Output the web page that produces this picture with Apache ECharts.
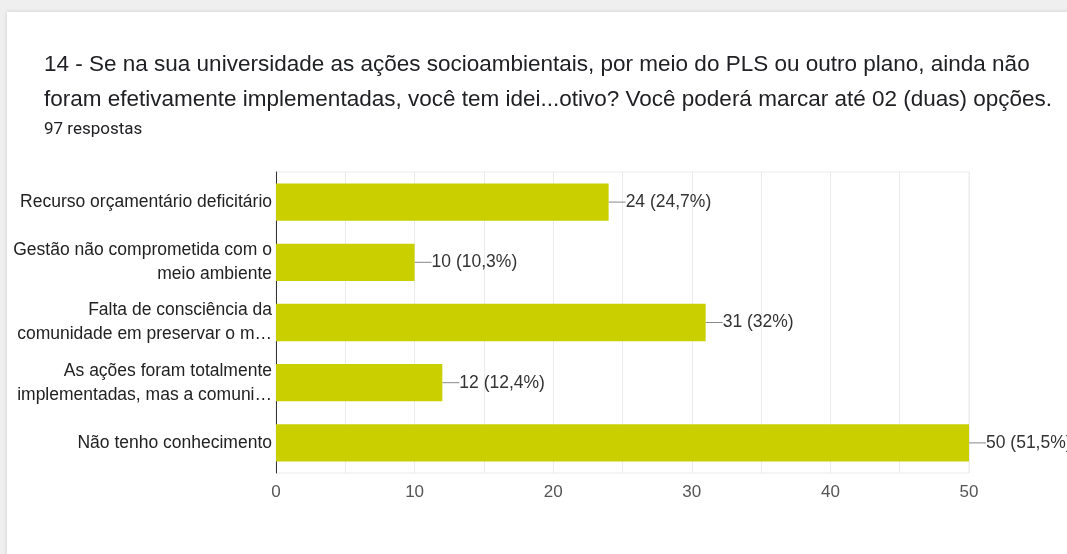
<!DOCTYPE html>
<html>
<head>
<meta charset="utf-8">
<script src="https://cdn.jsdelivr.net/npm/echarts@6/dist/echarts.min.js"></script>
<style>
  html, body { margin: 0; padding: 0; background: #efefef; overflow: hidden; }
  #card {
    position: absolute; left: 7px; top: 12px; right: -10px; bottom: -10px;
    background: #ffffff; box-shadow: 0 0 4px rgba(0,0,0,0.15);
  }
  #myChart { position: absolute; left: 0; top: 0; width: 1067px; height: 554px; }
</style>
</head>
<body>
<div id="card"></div>
<div id="myChart"></div>
<script>
// categorias (de cima para baixo)
var categories = [
  "Recurso orçamentário deficitário",
  "Gestão não comprometida com o\nmeio ambiente",
  "Falta de consciência da\ncomunidade em preservar o m…",
  "As ações foram totalmente\nimplementadas, mas a comuni…",
  "Não tenho conhecimento"
];
var counts = [24, 10, 31, 12, 50];
var percents = ["24,7%", "10,3%", "32%", "12,4%", "51,5%"];
var xTicks = [0, 10, 20, 30, 40, 50];

var chart = echarts.init(document.getElementById("myChart"));

chart.setOption({
  animation: false,
  textStyle: { fontFamily: "Liberation Sans, Arial, sans-serif" },
  title: {
    text: "14 - Se na sua universidade as ações socioambientais, por meio do PLS ou outro plano, ainda não\nforam efetivamente implementadas, você tem idei...otivo? Você poderá marcar até 02 (duas) opções.",
    subtext: "97 respostas",
    left: 39,
    top: 42,
    itemGap: 4,
    textStyle: {
      fontFamily: "Liberation Sans, Arial, sans-serif",
      fontSize: 22.5,
      fontWeight: "normal",
      color: "#202124",
      lineHeight: 35
    },
    subtextStyle: {
      fontFamily: "Roboto, sans-serif",
      fontSize: 17,
      lineHeight: 17,
      color: "#202124"
    }
  },
  grid: {
    left: 276,
    right: 98,
    top: 172,
    bottom: 81,
    show: true,
    borderColor: "#ebebeb",
    borderWidth: 1
  },
  xAxis: {
    type: "value",
    min: xTicks[0],
    max: xTicks[xTicks.length - 1],
    interval: 10,
    axisLine: { show: false },
    axisTick: { show: false },
    axisLabel: { fontSize: 17, color: "#555555", margin: 11 },
    splitLine: { lineStyle: { color: "#ebebeb" } },
    minorTick: { show: false, splitNumber: 2 },
    minorSplitLine: { show: true, lineStyle: { color: "#ebebeb" } }
  },
  yAxis: {
    type: "category",
    inverse: true,
    data: categories,
    axisLine: { show: true, lineStyle: { color: "#333333", width: 1 } },
    axisTick: { show: false },
    axisLabel: { fontSize: 17.5, color: "#222222", lineHeight: 24, margin: 4 }
  },
  series: [
    {
      type: "bar",
      data: counts,
      barCategoryGap: "38%",
      itemStyle: { color: "#cad000" },
      label: {
        show: true,
        position: "right",
        distance: 1,
        fontSize: 17.5,
        color: "#333333",
        formatter: function (p) {
          return counts[p.dataIndex] + " (" + percents[p.dataIndex] + ")";
        }
      },
      labelLayout: { dx: 16 },
      labelLine: { show: true, lineStyle: { color: "#888888", width: 1 } }
    }
  ]
});
</script>
</body>
</html>
